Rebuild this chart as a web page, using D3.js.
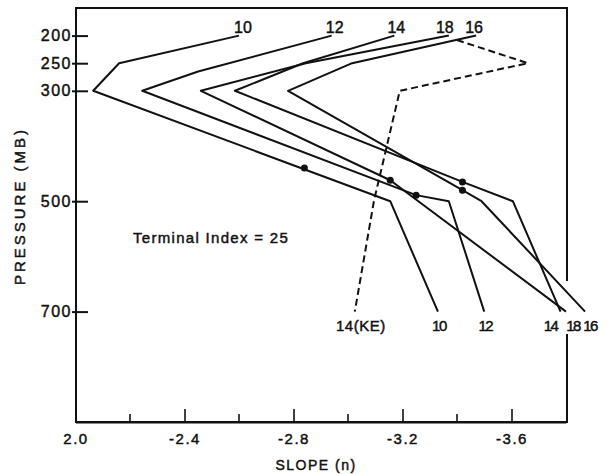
<!DOCTYPE html>
<html>
<head>
<meta charset="utf-8">
<script src="https://cdn.jsdelivr.net/npm/d3@7"></script>
<style>
  body { margin: 0; background: #fff; overflow: hidden; }
  svg { display: block; }
  text { font-family: "Liberation Sans", Arial, sans-serif; fill: #111; stroke: #111; stroke-width: 0.45px; }
</style>
</head>
<body>
<script>
// pressure levels (mb) and slopes (n), one pair of arrays per curve
var pres10 = [200, 250, 300, 500, 700];
var slope10 = [-2.60, -2.16, -2.065, -3.155, -3.33];

var pres12 = [200, 265, 300, 489, 500, 700];
var slope12 = [-2.94, -2.45, -2.245, -3.25, -3.37, -3.50];

var pres14 = [200, 250, 300, 465, 500, 700];
var slope14 = [-3.17, -2.835, -2.585, -3.42, -3.605, -3.78];

var pres18 = [200, 250, 300, 462, 700];
var slope18 = [-3.37, -2.845, -2.46, -3.155, -3.80];

var pres16 = [200, 250, 300, 480, 500, 700];
var slope16 = [-3.47, -3.015, -2.78, -3.42, -3.49, -3.87];

// dashed kinetic energy curve, 14(KE)
var presKE = [208, 250, 300, 500, 700];
var slopeKE = [-3.40, -3.66, -3.19, -3.095, -3.025];

// terminal index markers
var dotPres = [440, 462, 489, 465, 480];
var dotSlope = [-2.84, -3.155, -3.25, -3.42, -3.42];

var curveNames = ['10', '12', '14', '18', '16'];
var pressureTicks = [200, 250, 300, 500, 700];
var slopeTicks = [-2.0, -2.4, -2.8, -3.2, -3.6];
var slopeMinorTicks = [-2.2, -2.6, -3.0, -3.4];

var curves = [
  {name: curveNames[0], p: pres10, n: slope10},
  {name: curveNames[1], p: pres12, n: slope12},
  {name: curveNames[2], p: pres14, n: slope14},
  {name: curveNames[3], p: pres18, n: slope18},
  {name: curveNames[4], p: pres16, n: slope16}
];

var W = 610, H = 474;
var frameL = 76, frameR = 567, frameT = 8, frameB = 422;

var svg = d3.select('body').append('svg').attr('width', W).attr('height', H);
svg.append('rect').attr('width', W).attr('height', H).attr('fill', '#fff');

var x = d3.scaleLinear().domain([-2.0, -3.8]).range([75.5, 566]);
var y = d3.scaleLinear().domain([150, 900]).range([frameT, frameB]);

// frame box, the right side gets a gap behind the end labels further down
svg.append('rect')
  .attr('x', frameL).attr('y', frameT)
  .attr('width', frameR - frameL).attr('height', frameB - frameT)
  .attr('fill', 'none').attr('stroke', '#111').attr('stroke-width', 2);
svg.append('rect')
  .attr('x', frameR - 3).attr('y', 281)
  .attr('width', 6).attr('height', 53)
  .attr('fill', '#fff');

// x axis, ticks point inward
var xAxis = d3.axisBottom(x)
  .tickValues(slopeTicks)
  .tickSizeInner(-13)
  .tickSizeOuter(0)
  .tickPadding(11)
  .tickFormat(function(d) { return d === -2.0 ? '2.0' : d3.format('.1f')(d).replace('\u2212', '-'); });

var gx = svg.append('g').attr('transform', 'translate(0,' + frameB + ')').call(xAxis);
gx.select('.domain').attr('stroke', '#111').attr('stroke-width', 2);
gx.selectAll('.tick line').attr('stroke', '#111').attr('stroke-width', 1.6);
gx.selectAll('.tick text')
  .attr('font-size', 15)
  .attr('letter-spacing', 1.5)
  .attr('fill', '#111')
  .attr('font-family', '"Liberation Sans", Arial, sans-serif');

svg.append('g').selectAll('line').data(slopeMinorTicks).enter().append('line')
  .attr('x1', function(d) { return x(d); })
  .attr('x2', function(d) { return x(d); })
  .attr('y1', frameB)
  .attr('y2', frameB - 8)
  .attr('stroke', '#111').attr('stroke-width', 1.6);

// y axis, ticks cross the axis
var yAxis = d3.axisLeft(y)
  .tickValues(pressureTicks)
  .tickSize(-12)
  .tickPadding(4)
  .tickFormat(d3.format('d'));

var gy = svg.append('g').attr('transform', 'translate(' + frameL + ',0)').call(yAxis);
gy.select('.domain').remove();
gy.selectAll('.tick line').attr('x1', -4).attr('stroke', '#111').attr('stroke-width', 2);
gy.selectAll('.tick text')
  .attr('font-size', 16)
  .attr('letter-spacing', 1.5)
  .attr('fill', '#111')
  .attr('font-family', '"Liberation Sans", Arial, sans-serif');

// curves
var line = d3.line()
  .x(function(d) { return x(d[1]); })
  .y(function(d) { return y(d[0]); });

svg.append('g').selectAll('path').data(curves).enter().append('path')
  .attr('d', function(c) { return line(d3.zip(c.p, c.n)); })
  .attr('fill', 'none')
  .attr('stroke', '#111')
  .attr('stroke-width', 2)
  .attr('stroke-linejoin', 'round');

svg.append('path')
  .attr('d', line(d3.zip(presKE, slopeKE)))
  .attr('fill', 'none')
  .attr('stroke', '#111')
  .attr('stroke-width', 2)
  .attr('stroke-dasharray', '7,4');

svg.append('g').selectAll('circle').data(d3.zip(dotPres, dotSlope)).enter().append('circle')
  .attr('cx', function(d) { return x(d[1]); })
  .attr('cy', function(d) { return y(d[0]); })
  .attr('r', 3.5)
  .attr('fill', '#111');

// curve labels at the top ends and bottom ends
var topDx = {'10': 4, '12': 3, '14': 2, '18': -4, '16': -2};
var botDx = {'10': 1, '12': 1, '14': -10, '18': 7, '16': 5};

svg.append('g').selectAll('text').data(curves).enter().append('text')
  .attr('x', function(c) { return x(c.n[0]) + topDx[c.name]; })
  .attr('y', function(c) { return y(c.p[0]) - 3; })
  .attr('text-anchor', 'middle')
  .attr('font-size', 16)
  .text(function(c) { return c.name; });

svg.append('g').selectAll('text').data(curves).enter().append('text')
  .attr('x', function(c) { return x(c.n[c.n.length - 1]) + botDx[c.name]; })
  .attr('y', function(c) { return y(c.p[c.p.length - 1]) + 19; })
  .attr('text-anchor', 'middle')
  .attr('font-size', 15)
  .attr('letter-spacing', -1.5)
  .text(function(c) { return c.name; });

svg.append('text')
  .attr('x', x(slopeKE[slopeKE.length - 1]) + 6)
  .attr('y', y(presKE[presKE.length - 1]) + 19)
  .attr('text-anchor', 'middle')
  .attr('font-size', 15)
  .attr('letter-spacing', 0.5)
  .text('14(KE)');

svg.append('text')
  .attr('x', 133).attr('y', 243)
  .attr('font-size', 15)
  .attr('letter-spacing', 1.3)
  .text('Terminal Index = 25');

// axis titles
svg.append('text')
  .attr('x', 316).attr('y', 470)
  .attr('text-anchor', 'middle')
  .attr('font-size', 14)
  .attr('letter-spacing', 1.5)
  .text('SLOPE (n)');

svg.append('text')
  .attr('transform', 'translate(25,206) rotate(-90)')
  .attr('text-anchor', 'middle')
  .attr('font-size', 15)
  .attr('letter-spacing', 3)
  .text('PRESSURE (MB)');
</script>
</body>
</html>
